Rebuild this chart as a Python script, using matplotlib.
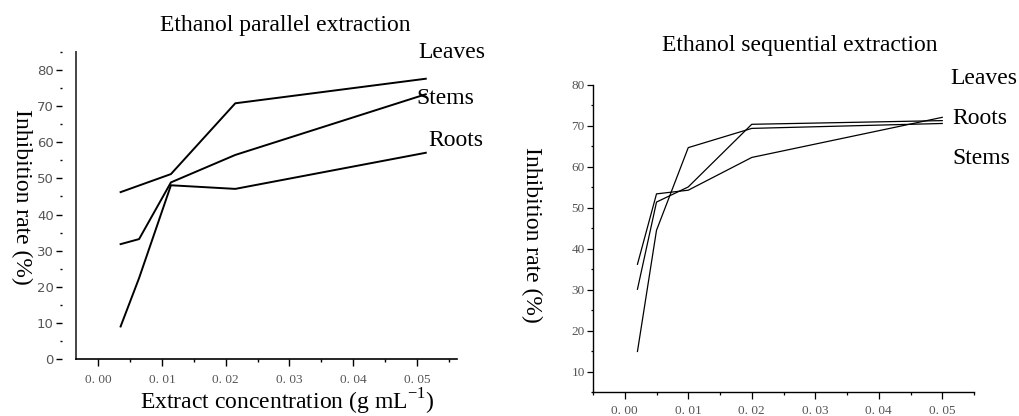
import matplotlib
matplotlib.use('Agg')
import matplotlib.pyplot as plt
from matplotlib.ticker import MultipleLocator

# parallel extraction (left panel)
par_x = [0.0035, 0.0064, 0.0114, 0.0215, 0.0514]
par_x_leaves = [0.0035, 0.0114, 0.0215, 0.0514]
par_leaves = [46.2, 51.2, 70.8, 77.6]
par_stems = [31.8, 33.2, 48.9, 56.5, 73.3]
par_roots = [9.0, 22.4, 48.1, 47.1, 57.1]

# sequential extraction (right panel)
seq_x = [0.002, 0.005, 0.01, 0.02, 0.05]
seq_leaves = [36.2, 53.4, 54.3, 62.3, 72.1]
seq_roots = [30.1, 51.4, 55.1, 70.4, 71.3]
seq_stems = [14.9, 44.5, 64.7, 69.4, 70.6]

x_ticks = [0.00, 0.01, 0.02, 0.03, 0.04, 0.05]
x_ticklabels = ['0. 00', '0. 01', '0. 02', '0. 03', '0. 04', '0. 05']

serif = 'Liberation Serif'
tick_col = '#555555'
big = 17

fig = plt.figure(figsize=(10.19, 4.16), dpi=100)
W, H = 1019, 416


def px_axes(l, t, r, b):
    return fig.add_axes([l / W, 1 - b / H, (r - l) / W, (b - t) / H])


def style(ax, xlim, ylim, yticks, lw_tick, xpad):
    ax.set_xlim(*xlim)
    ax.set_ylim(*ylim)
    ax.spines['top'].set_visible(False)
    ax.spines['right'].set_visible(False)
    ax.set_xticks(x_ticks)
    ax.set_xticklabels(x_ticklabels)
    ax.xaxis.set_minor_locator(MultipleLocator(0.005))
    ax.set_yticks(yticks)
    ax.yaxis.set_minor_locator(MultipleLocator(5))
    ax.tick_params(axis='both', which='major', labelsize=9.5, labelcolor=tick_col,
                   width=lw_tick, color='black')
    ax.tick_params(axis='x', which='major', length=5, pad=xpad)
    ax.tick_params(axis='x', which='minor', length=2.5, width=lw_tick)
    ax.tick_params(axis='y', which='major', length=4, pad=2)
    ax.tick_params(axis='y', which='minor', length=1.5, width=lw_tick)
    for lab in ax.get_xticklabels() + ax.get_yticklabels():
        lab.set_family(serif)


# ---- left panel
ax1 = px_axes(76, 52, 457, 359)
style(ax1, (-0.0035, 0.0563), (0, 85), list(range(0, 81, 10)), 1.0, 6)
ax1.spines['left'].set_position(('outward', 10))
ax1.spines['left'].set_color('none')
ax1.axvline(-0.0035, color='#444444', lw=1.4, clip_on=False)
ax1.spines['bottom'].set_linewidth(1.2)
ax1.tick_params(axis='y', which='minor', length=1.2)
ax1.plot(par_x_leaves, par_leaves, color='black', lw=1.4)
ax1.plot(par_x, par_stems, color='black', lw=1.4)
ax1.plot(par_x, par_roots, color='black', lw=1.4)

fig.text(285 / W, 1 - 25 / H, 'Ethanol parallel extraction', family=serif, fontsize=big,
         ha='center', va='center')
fig.text(22 / W, 1 - 197 / H, 'Inhibition rate (%)', family=serif, fontsize=big,
         ha='center', va='center', rotation=-90)
fig.text(287 / W, 1 - 402 / H, 'Extract concentration (g mL$^{\\mathregular{-1}}$)',
         family=serif, fontsize=big, ha='center', va='center')
fig.text(418 / W, 1 - 53 / H, 'Leaves', family=serif, fontsize=big, ha='left', va='center')
fig.text(416 / W, 1 - 99 / H, 'Stems', family=serif, fontsize=big, ha='left', va='center')
fig.text(428 / W, 1 - 140 / H, 'Roots', family=serif, fontsize=big, ha='left', va='center')

# ---- right panel
ax2 = px_axes(593, 85, 974, 392)
style(ax2, (-0.005, 0.055), (5, 80), list(range(10, 81, 10)), 0.9, 4)
ax2.spines['left'].set_linewidth(1.0)
ax2.spines['bottom'].set_linewidth(1.0)
ax2.plot(seq_x, seq_leaves, color='black', lw=0.9)
ax2.plot(seq_x, seq_roots, color='black', lw=0.9)
ax2.plot(seq_x, seq_stems, color='black', lw=0.9)

fig.text(800 / W, 1 - 45 / H, 'Ethanol sequential extraction', family=serif, fontsize=big,
         ha='center', va='center')
fig.text(532 / W, 1 - 235 / H, 'Inhibition rate (%)', family=serif, fontsize=big,
         ha='center', va='center', rotation=-90)
fig.text(950 / W, 1 - 79 / H, 'Leaves', family=serif, fontsize=big, ha='left', va='center')
fig.text(952 / W, 1 - 119 / H, 'Roots', family=serif, fontsize=big, ha='left', va='center')
fig.text(952 / W, 1 - 159 / H, 'Stems', family=serif, fontsize=big, ha='left', va='center')

fig.savefig('out.png', dpi=100)
